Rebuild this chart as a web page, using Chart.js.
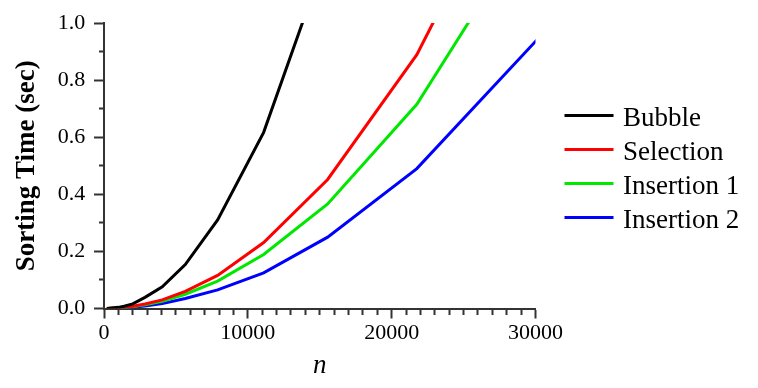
<!DOCTYPE html>
<html>
<head>
<meta charset="utf-8">
<script src="https://cdn.jsdelivr.net/npm/chart.js@4"></script>
<style>
  html, body { margin: 0; padding: 0; background: #fff; }
  #wrap { width: 758px; height: 388px; }
</style>
</head>
<body>
<div id="wrap"><canvas id="sorting-time"></canvas></div>
<script>
// tamaños de entrada (n) y tiempos
const nValues = [200, 1000, 1400, 2000, 2850, 4050, 5650, 7900, 11100, 15550, 21750, 30450];
const bubble = [0.0, 0.004, 0.008, 0.016, 0.039, 0.076, 0.154, 0.31, 0.617, 1.25];
const selection = [0.0, 0.002, 0.004, 0.008, 0.016, 0.03, 0.06, 0.116, 0.231, 0.452, 0.889, 1.75];
const insertion1 = [0.0, 0.002, 0.003, 0.006, 0.013, 0.025, 0.05, 0.096, 0.189, 0.366, 0.715, 1.41];
const insertion2 = [0.0, 0.001, 0.002, 0.004, 0.009, 0.017, 0.035, 0.065, 0.125, 0.25, 0.49, 0.96];
const seriesNames = ["Bubble", "Selection", "Insertion 1", "Insertion 2"];
const seriesColors = ["#000000", "#ff0000", "#00e800", "#0000ff"];

const axisColor = "#333333";
const serif = "Liberation Serif";

function toPoints(values) {
  return values.map((y, i) => ({ x: nValues[i], y: y }));
}

const datasets = [bubble, selection, insertion1, insertion2].map((vals, i) => ({
  label: seriesNames[i],
  data: toPoints(vals),
  borderColor: seriesColors[i],
  backgroundColor: seriesColors[i],
  borderWidth: 3,
  pointRadius: 0,
  tension: 0,
  fill: false,
}));

// leyenda a la derecha (la del plugin queda limitada en ancho)
const sideLegend = {
  id: "sideLegend",
  afterDraw(chart) {
    const c = chart.ctx;
    const area = chart.chartArea;
    const x0 = area.right + 29;
    c.save();
    c.font = "27px " + serif;
    c.textAlign = "left";
    c.textBaseline = "alphabetic";
    chart.data.datasets.forEach((ds, i) => {
      const y = area.top + 92.5 + i * 34;
      c.strokeStyle = ds.borderColor;
      c.lineWidth = ds.borderWidth;
      c.beginPath();
      c.moveTo(x0, y);
      c.lineTo(x0 + 49, y);
      c.stroke();
      c.fillStyle = "#000";
      c.fillText(ds.label, x0 + 58.5, y + 10.3);
    });
    c.restore();
  },
};

const ctx = document.getElementById("sorting-time").getContext("2d");

new Chart(ctx, {
  type: "line",
  data: { datasets: datasets },
  plugins: [sideLegend],
  options: {
    responsive: true,
    maintainAspectRatio: false,
    animation: false,
    layout: {
      padding: { top: 23, left: 7, right: 222.5, bottom: 6 },
    },
    plugins: {
      legend: { display: false },
      tooltip: { enabled: false },
    },
    scales: {
      x: {
        type: "linear",
        min: 0,
        max: 30000,
        border: { display: true, color: axisColor, width: 2 },
        grid: {
          display: true,
          drawOnChartArea: false,
          drawTicks: true,
          tickLength: 10,
          tickWidth: 2,
          tickColor: axisColor,
          // marcas menores mas cortas
          tickBorderDash: (c) => (c.tick && c.tick.value % 10000 === 0 ? [] : [5, 20]),
        },
        ticks: {
          stepSize: 1000,
          autoSkip: false,
          maxRotation: 0,
          padding: 2,
          color: "#000",
          font: { family: serif, size: 22 },
          callback: (v) => (v % 10000 === 0 ? String(v) : ""),
        },
        title: {
          display: true,
          text: "n",
          color: "#000",
          font: { family: serif, size: 27, style: "italic" },
          padding: { top: 0.7, bottom: 0 },
        },
      },
      y: {
        min: 0,
        max: 1,
        border: { display: true, color: axisColor, width: 2 },
        grid: {
          display: true,
          drawOnChartArea: false,
          drawTicks: true,
          tickLength: 10,
          tickWidth: 2,
          tickColor: axisColor,
          tickBorderDash: (c) =>
            c.tick && Math.round(c.tick.value * 10) % 2 === 0 ? [] : [5, 5],
          tickBorderDashOffset: 5,
        },
        ticks: {
          stepSize: 0.1,
          autoSkip: false,
          padding: 8.7,
          color: "#000",
          font: { family: serif, size: 22 },
          callback: (v) => {
            const k = Math.round(v * 10);
            return k % 2 === 0 ? (k / 10).toFixed(1) : "";
          },
        },
        title: {
          display: true,
          text: "Sorting Time (sec)",
          color: "#000",
          font: { family: serif, size: 27, weight: "bold" },
          padding: { top: 4, bottom: 5.7 },
        },
      },
    },
  },
});
</script>
</body>
</html>
